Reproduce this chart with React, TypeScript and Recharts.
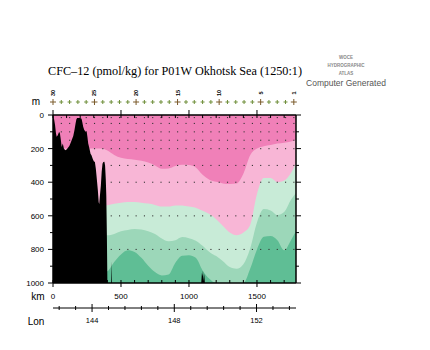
import React from 'react';
import { ComposedChart, Area, Scatter, XAxis, YAxis, CartesianGrid } from 'recharts';

// ---- contour boundaries (depth in m of the lower edge of each colour band) ----
const contourKm = [0, 100, 200, 300, 350, 400, 450, 500, 550, 600, 650, 700, 750, 800, 850, 900, 950, 1000, 1050, 1100, 1150, 1200, 1250, 1300, 1350, 1400, 1450, 1500, 1550, 1600, 1650, 1700, 1750, 1787];
const darkPinkBottom = [200, 200, 200, 200, 200, 212, 238, 255, 262, 266, 272, 283, 300, 320, 318, 303, 296, 298, 312, 355, 385, 398, 407, 410, 408, 350, 240, 200, 186, 178, 170, 165, 158, 148];
const lightPinkBottom = [540, 540, 540, 540, 540, 537, 528, 522, 518, 518, 522, 527, 535, 545, 545, 538, 538, 545, 552, 570, 590, 620, 660, 700, 716, 700, 655, 470, 375, 375, 400, 390, 345, 285];
const paleGreenBottom = [710, 710, 710, 710, 715, 716, 708, 692, 684, 678, 682, 692, 708, 735, 752, 745, 726, 733, 748, 778, 815, 840, 870, 905, 915, 888, 795, 640, 560, 568, 595, 578, 505, 465];
const midGreenBottom = [950, 950, 950, 950, 940, 930, 875, 830, 805, 815, 850, 897, 935, 955, 950, 880, 838, 835, 850, 925, 975, 1000, 1000, 1000, 1000, 1000, 915, 800, 725, 720, 745, 805, 745, 690];

// ---- bottom topography ----
const bathyKm = [0, 8, 15, 22, 27, 35, 45, 51, 58, 64, 72, 80, 90, 100, 110, 120, 130, 140, 149, 158, 166, 172, 178, 200, 210, 216, 222, 230, 240, 247, 253, 259, 268, 276, 283, 292, 300, 308, 315, 322, 330, 336, 340, 345, 352, 358, 364, 370, 378, 383, 388, 392, 396, 400, 428, 431, 434, 1090, 1095, 1099, 1103, 1107, 1112, 1117, 1787];
const bathyDepth = [12, 25, 60, 110, 130, 120, 100, 110, 150, 190, 170, 200, 210, 205, 195, 185, 165, 145, 125, 90, 50, 25, 18, 18, 22, 45, 70, 90, 100, 95, 130, 170, 200, 230, 240, 260, 275, 280, 320, 380, 450, 520, 530, 480, 420, 340, 290, 280, 278, 300, 380, 480, 700, 1000, 1000, 870, 1000, 1000, 940, 960, 925, 990, 945, 1000, 1000];

// ---- stations ----
const stationKm = [0, 61, 122, 183, 244, 305, 366, 428, 489, 550, 611, 672, 733, 794, 855, 916, 978, 1039, 1100, 1161, 1222, 1283, 1344, 1405, 1466, 1527, 1588, 1649, 1710, 1771];
const stationBottom = [12, 150, 180, 18, 95, 278, 280, 1000, 1000, 1000, 1000, 1000, 1000, 1000, 1000, 1000, 1000, 1000, 1000, 1000, 1000, 1000, 1000, 1000, 1000, 1000, 1000, 1000, 1000, 1000];
const labeledStations = [0, 305, 611, 916, 1222, 1527, 1771];
const stationLabels = ['30', '25', '20', '15', '10', '5', '1'];
const sampleDepths = [15, 50, 100, 150, 200, 300, 400, 600, 800];

// ---- axes ----
const kmTicks = [0, 100, 200, 300, 400, 500, 600, 700, 800, 900, 1000, 1100, 1200, 1300, 1400, 1500, 1600, 1700];
const kmLabels = [0, 500, 1000, 1500];
const depthTicks = [0, 100, 200, 300, 400, 500, 600, 700, 800, 900, 1000];
const lonTicks = [142.4, 143.2, 144, 144.8, 145.6, 146.4, 147.2, 148, 148.8, 149.6, 150.4, 151.2, 152, 152.8, 153.6];
const lonLabels = [144, 148, 152];

const C = {
  darkPink: '#f080b8',
  lightPink: '#f8b6d6',
  paleGreen: '#c8ebd7',
  midGreen: '#9cd7b9',
  darkGreen: '#5fbe95',
};

const SANS = '"Liberation Sans", Arial, Helvetica, sans-serif';

const rowMap = new Map<number, any>();
const getRow = (km: number) => {
  if (!rowMap.has(km)) rowMap.set(km, { km });
  return rowMap.get(km);
};
contourKm.forEach((km, i) => {
  const r = getRow(km);
  r.b1 = darkPinkBottom[i];
  r.b2 = lightPinkBottom[i];
  r.b3 = paleGreenBottom[i];
  r.b4 = midGreenBottom[i];
});
bathyKm.forEach((km, i) => {
  getRow(km).bathy = bathyDepth[i];
});
const rows = Array.from(rowMap.values()).sort((a, b) => a.km - b.km);

const samples: { km: number; depth: number }[] = [];
stationKm.forEach((km, i) => {
  sampleDepths.forEach((d) => {
    if (d < stationBottom[i] - 4) samples.push({ km, depth: d });
  });
});
const stations = stationKm.map((km) => ({ km, depth: 0 }));
const lonPoints = lonTicks.map((lon) => ({ lon, depth: 1000 }));

function LeftTick(props: any) {
  const { x, y, payload } = props;
  const v = payload.value;
  const major = v % 200 === 0;
  return (
    <g>
      <line x1={x - (major ? 5 : 3)} x2={x} y1={y} y2={y} stroke="#000" strokeWidth={1} />
      {major && (
        <text x={x - 9} y={y + 3} textAnchor="end" fontSize={8} fontFamily={SANS} fill="#000">
          {v}
        </text>
      )}
    </g>
  );
}

function RightTick(props: any) {
  const { x, y, payload } = props;
  const major = payload.value % 200 === 0;
  return <line x1={x} x2={x + (major ? 5 : 3)} y1={y} y2={y} stroke="#000" strokeWidth={1} />;
}

function BottomTick(props: any) {
  const { x, y, payload } = props;
  const v = payload.value;
  const major = kmLabels.includes(v);
  return (
    <g>
      <line x1={x} x2={x} y1={y - 3} y2={y + (major ? 4 : 0)} stroke="#000" strokeWidth={1} />
      {major && (
        <text x={x} y={y + 16} textAnchor="middle" fontSize={8} fontFamily={SANS} fill="#000">
          {v}
        </text>
      )}
    </g>
  );
}

function TopTick(props: any) {
  const { x, y, payload } = props;
  const major = kmLabels.includes(payload.value);
  return <line x1={x} x2={x} y1={y - (major ? 5 : 0)} y2={y + 3} stroke="#000" strokeWidth={1} />;
}

function LonTick(props: any) {
  const { x, y, payload } = props;
  const v = payload.value;
  const major = lonLabels.includes(v);
  return (
    <g>
      <line x1={x} x2={x} y1={y - (major ? 4 : 2)} y2={y + (major ? 4 : 2)} stroke="#000" strokeWidth={1} />
      {major && (
        <text x={x} y={y + 15} textAnchor="middle" fontSize={7.5} fontFamily={SANS} fill="#000">
          {v}
        </text>
      )}
    </g>
  );
}

const StationMark = (props: any) => {
  const { cx, cy, payload } = props;
  const li = labeledStations.indexOf(payload.km);
  const major = li >= 0;
  const py = cy - 13;
  const s = major ? 3 : 2;
  const col = major ? '#7a5a2a' : '#6f8f3a';
  return (
    <g>
      <line x1={cx - s} x2={cx + s} y1={py} y2={py} stroke={col} strokeWidth={1} />
      <line x1={cx} x2={cx} y1={py - s} y2={py + s} stroke={col} strokeWidth={1} />
      {major && (
        <text
          x={cx}
          y={py - 9}
          transform={`rotate(-90 ${cx} ${py - 9})`}
          textAnchor="middle"
          dominantBaseline="central"
          fontSize={5.5}
          fontWeight="bold"
          fontFamily={SANS}
          fill="#000"
        >
          {stationLabels[li]}
        </text>
      )}
    </g>
  );
};

const Dot = (props: any) => {
  const { cx, cy } = props;
  return <rect x={cx - 0.5} y={cy - 0.5} width={1.1} height={1.1} fill="#333" />;
};

const Nothing = () => <g />;

export default function App() {
  return (
    <div style={{ position: 'absolute', left: 0, top: 0, width: 430, height: 350, background: '#fff' }}>
      <ComposedChart
        width={430}
        height={350}
        data={rows}
        margin={{ top: 114, right: 133, bottom: 17, left: 8 }}
      >
        <CartesianGrid fill={C.darkGreen} horizontal={false} vertical={false} stroke="none" />
        <XAxis
          dataKey="km"
          type="number"
          domain={[0, 1787]}
          allowDataOverflow
          ticks={kmTicks}
          interval={0}
          height={25}
          tickSize={0}
          tickMargin={0}
          tickLine={false}
          tick={<BottomTick />}
          axisLine={{ stroke: '#000', strokeWidth: 1.5 }}
        />
        <XAxis
          xAxisId="lon"
          dataKey="lon"
          type="number"
          domain={[142.1, 153.92]}
          ticks={lonTicks}
          interval={0}
          height={25}
          tickSize={0}
          tickMargin={0}
          tickLine={false}
          tick={<LonTick />}
          axisLine={{ stroke: '#000', strokeWidth: 1 }}
        />
        <XAxis
          xAxisId="top"
          dataKey="km"
          orientation="top"
          type="number"
          domain={[0, 1787]}
          ticks={kmTicks}
          interval={0}
          height={1}
          tickSize={0}
          tickMargin={0}
          tickLine={false}
          tick={<TopTick />}
          axisLine={{ stroke: '#000', strokeWidth: 1.5 }}
        />
        <YAxis
          type="number"
          domain={[0, 1000]}
          reversed
          allowDataOverflow
          ticks={depthTicks}
          interval={0}
          width={45}
          tickSize={0}
          tickMargin={0}
          tickLine={false}
          tick={<LeftTick />}
          axisLine={{ stroke: '#000', strokeWidth: 1.5 }}
        />
        <YAxis
          yAxisId="r"
          orientation="right"
          type="number"
          domain={[0, 1000]}
          reversed
          ticks={depthTicks}
          interval={0}
          width={1}
          tickSize={0}
          tickMargin={0}
          tickLine={false}
          tick={<RightTick />}
          axisLine={{ stroke: '#000', strokeWidth: 1.5 }}
        />
        <Area dataKey="b4" type="monotone" baseValue={0} connectNulls stroke="none" fill={C.midGreen} fillOpacity={1} isAnimationActive={false} dot={false} activeDot={false} />
        <Area dataKey="b3" type="monotone" baseValue={0} connectNulls stroke="none" fill={C.paleGreen} fillOpacity={1} isAnimationActive={false} dot={false} activeDot={false} />
        <Area dataKey="b2" type="monotone" baseValue={0} connectNulls stroke="none" fill={C.lightPink} fillOpacity={1} isAnimationActive={false} dot={false} activeDot={false} />
        <Area dataKey="b1" type="monotone" baseValue={0} connectNulls stroke="none" fill={C.darkPink} fillOpacity={1} isAnimationActive={false} dot={false} activeDot={false} />
        <Scatter data={samples} dataKey="depth" shape={<Dot />} isAnimationActive={false} />
        <Area dataKey="bathy" type="linear" baseValue={1000} connectNulls stroke="none" fill="#000" fillOpacity={1} isAnimationActive={false} dot={false} activeDot={false} />
        <Scatter data={stations} dataKey="depth" xAxisId="top" yAxisId="r" shape={<StationMark />} isAnimationActive={false} />
        <Scatter data={lonPoints} dataKey="depth" xAxisId="lon" shape={<Nothing />} isAnimationActive={false} />
      </ComposedChart>
      <svg width={430} height={350} style={{ position: 'absolute', left: 0, top: 0, pointerEvents: 'none' }}>
        <text x={175} y={75} textAnchor="middle" fontSize={11.5} fontFamily='"Liberation Serif", "Times New Roman", serif' textLength={254} lengthAdjust="spacingAndGlyphs" fill="#000">
          CFC–12 (pmol/kg) for P01W Okhotsk Sea (1250:1)
        </text>
        <text x={346} y={59} textAnchor="middle" fontSize={4.5} fontWeight="bold" fontFamily={SANS} fill="#888">WOCE</text>
        <text x={346} y={67} textAnchor="middle" fontSize={4.5} fontWeight="bold" fontFamily={SANS} fill="#888">HYDROGRAPHIC</text>
        <text x={346} y={75} textAnchor="middle" fontSize={4.5} fontWeight="bold" fontFamily={SANS} fill="#888">ATLAS</text>
        <text x={346} y={85.5} textAnchor="middle" fontSize={8.5} fontFamily={SANS} fill="#555">Computer Generated</text>
        <text x={36} y={105} textAnchor="middle" fontSize={10} fontFamily={SANS} fill="#000">m</text>
        <text x={38} y={300} textAnchor="middle" fontSize={10} fontFamily={SANS} fill="#000">km</text>
        <text x={36} y={325} textAnchor="middle" fontSize={10} fontFamily={SANS} fill="#000">Lon</text>
      </svg>
    </div>
  );
}
